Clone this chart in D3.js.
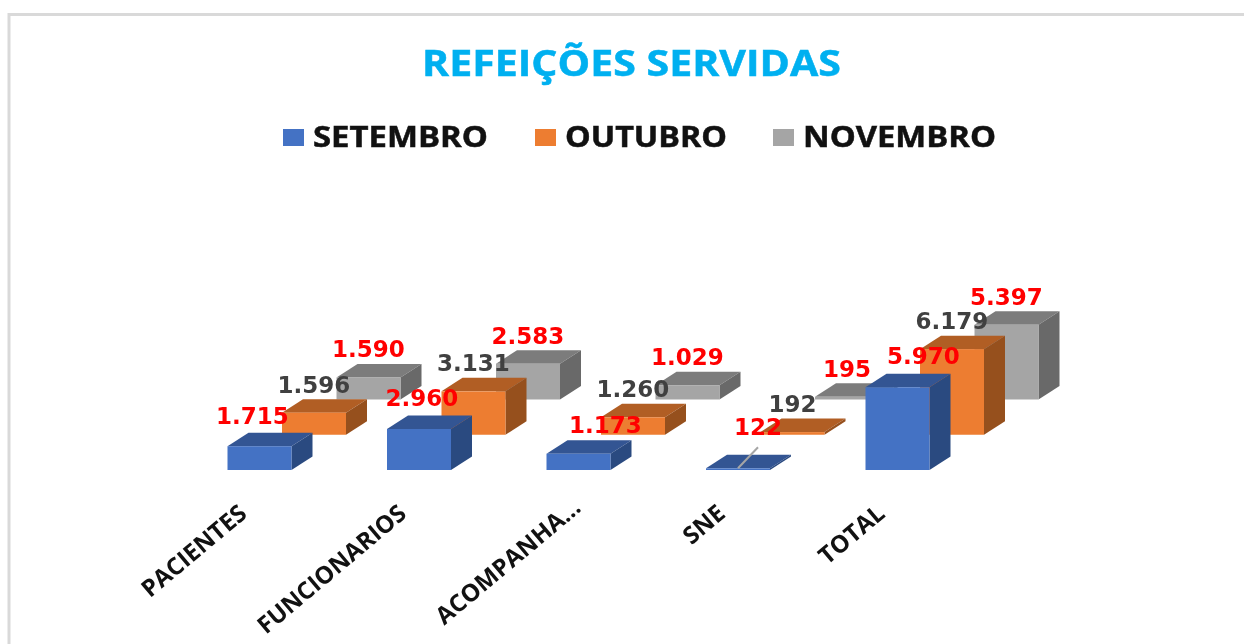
<!DOCTYPE html>
<html>
<head>
<meta charset="utf-8">
<script src="https://cdn.jsdelivr.net/npm/d3@7"></script>
<style>
  html, body { margin: 0; padding: 0; background: #fff; overflow: hidden; }
  svg { display: block; filter: blur(0.45px); } /* the reference is a soft upscaled screenshot */
</style>
</head>
<body>
<div id="chart"></div>
<script>
// define data
var categories = ["PACIENTES", "FUNCIONARIOS", "ACOMPANHA...", "SNE", "TOTAL"];
var seriesNames = ["SETEMBRO", "OUTUBRO", "NOVEMBRO"];
var setembro = [1715, 2960, 1173, 122, 5970];
var outubro = [1596, 3131, 1260, 192, 6179];
var novembro = [1590, 2583, 1029, 195, 5397];
var seriesValues = [setembro, outubro, novembro];

// face colours per series
var frontColors = ["#4472C4", "#ED7D31", "#A5A5A5"];
var topColors = ["#335593", "#B15E24", "#7C7C7C"];
var sideColors = ["#2A4A80", "#96501D", "#696969"];
var labelColors = ["#FF0000", "#404040", "#FF0000"];

// the september labels were dragged by hand in the original
var setembroNudgeX = [-7, 3, 27, 20, 26];
var setembroNudgeY = [-2, -3, -1, -13, -3];

// legend text is stretched in the original, so fix the widths
var legendTextWidth = [175, 162, 193];

// chart dimensions
var width = 1244;
var height = 644;
var barWidth = 64;
var depthX = 21; // side face offset
var depthY = 13.5;

var svg = d3.select('#chart')
  .append('svg')
  .attr('width', width)
  .attr('height', height);

// frame of the chart area, only top and left show
svg.append('path')
  .attr('d', 'M9,' + height + 'V14.5H' + width)
  .attr('fill', 'none')
  .attr('stroke', '#d9d9d9')
  .attr('stroke-width', 3);

// title
svg.append('text')
  .attr('x', 631.5)
  .attr('y', 76)
  .attr('text-anchor', 'middle')
  .attr('font-family', 'Open Sans')
  .attr('font-weight', 700)
  .attr('font-size', 35.5)
  .attr('textLength', 419)
  .attr('lengthAdjust', 'spacingAndGlyphs')
  .attr('fill', '#00B0F0')
  .attr('stroke', '#00B0F0')
  .attr('stroke-width', 0.5)
  .text('REFEIÇÕES SERVIDAS');

// legend
var legendX = d3.scaleOrdinal().domain(seriesNames).range([283, 535, 773]);
var legend = svg.selectAll('.legend')
  .data(seriesNames)
  .enter()
  .append('g')
  .attr('class', 'legend')
  .attr('transform', function(d) { return 'translate(' + legendX(d) + ',129)'; });

legend.append('rect')
  .attr('width', 21)
  .attr('height', 17)
  .attr('fill', function(d, i) { return frontColors[i]; });

legend.append('text')
  .attr('x', 30)
  .attr('y', 18)
  .attr('font-family', 'Open Sans')
  .attr('font-weight', 700)
  .attr('font-size', 29)
  .attr('textLength', function(d, i) { return legendTextWidth[i]; })
  .attr('lengthAdjust', 'spacingAndGlyphs')
  .attr('fill', '#111')
  .attr('stroke', '#111')
  .attr('stroke-width', 0.5)
  .text(function(d) { return d; });

// scales
var x = d3.scalePoint().domain(categories).range([259.5, 897.5]);
var y = d3.scaleLinear().domain([0, 7000]).range([0, 97]); // bar height in px
var seriesX = d3.scalePoint().domain(seriesNames).range([0, 109]);
var seriesY = d3.scalePoint().domain(seriesNames).range([470, 399.5]);

// one record per bar, back series first so the front ones cover them
var bars = [];
seriesNames.forEach(function(name, s) {
  categories.forEach(function(cat, c) {
    bars.push({ s: s, c: c, name: name, cat: cat, value: seriesValues[s][c] });
  });
});
bars.sort(function(a, b) { return b.s - a.s || a.c - b.c; });

function pts(list) {
  return list.map(function(p) { return p.join(','); }).join(' ');
}

var bar = svg.selectAll('.bar')
  .data(bars)
  .enter()
  .append('g')
  .attr('class', 'bar')
  .each(function(d) {
    d.l = x(d.cat) + seriesX(d.name) - barWidth / 2;
    d.r = d.l + barWidth;
    d.base = seriesY(d.name);
    d.top = d.base - y(d.value);
  });

bar.append('polygon') // top
  .attr('points', function(d) {
    return pts([[d.l, d.top], [d.r, d.top], [d.r + depthX, d.top - depthY], [d.l + depthX, d.top - depthY]]);
  })
  .attr('fill', function(d) { return topColors[d.s]; });

bar.append('polygon') // side
  .attr('points', function(d) {
    return pts([[d.r, d.top], [d.r + depthX, d.top - depthY], [d.r + depthX, d.base - depthY], [d.r, d.base]]);
  })
  .attr('fill', function(d) { return sideColors[d.s]; });

bar.append('rect') // front
  .attr('x', function(d) { return d.l; })
  .attr('y', function(d) { return d.top; })
  .attr('width', barWidth)
  .attr('height', function(d) { return d.base - d.top; })
  .attr('fill', function(d) { return frontColors[d.s]; });

// leader line of the SNE label
var sneBlue = bars.filter(function(d) { return d.cat === 'SNE' && d.s === 0; })[0];
svg.append('line')
  .attr('x1', sneBlue.l + barWidth / 2)
  .attr('y1', sneBlue.top)
  .attr('x2', sneBlue.l + barWidth / 2 + 20)
  .attr('y2', sneBlue.top - 21)
  .attr('stroke', '#A5A5A5')
  .attr('stroke-width', 2);

// data labels
var fmt = d3.formatLocale({ decimal: ',', thousands: '.', grouping: [3], currency: ['', ''] }).format(',d');

svg.selectAll('.value')
  .data(bars)
  .enter()
  .append('text')
  .attr('class', 'value')
  .attr('x', function(d) {
    return (d.l + d.r) / 2 + (d.s === 0 ? setembroNudgeX[d.c] : 0);
  })
  .attr('y', function(d) {
    return d.top - 20 + (d.s === 0 ? setembroNudgeY[d.c] : 0);
  })
  .attr('text-anchor', 'middle')
  .attr('font-family', 'DejaVu Sans')
  .attr('font-weight', 700)
  .attr('font-size', 23)
  .attr('fill', function(d) { return labelColors[d.s]; })
  .text(function(d) { return fmt(d.value); });

// category axis, labels only
var axis = svg.append('g')
  .attr('transform', 'translate(0,500)')
  .call(d3.axisBottom(x).tickSize(0).tickPadding(0));

axis.select('.domain').remove();

axis.selectAll('text')
  .attr('font-family', 'Open Sans')
  .attr('font-weight', 700)
  .attr('font-size', 24)
  .attr('fill', '#111')
  .attr('text-anchor', 'end')
  .attr('dy', null)
  .attr('y', 0)
  .attr('transform', function(d) {
    // the truncated label sits a little further along in the original
    return d === 'ACOMPANHA...' ? 'translate(-10,-6) rotate(-40)' : 'translate(-25,0) rotate(-40)';
  })
  .attr('dominant-baseline', 'hanging');
</script>
</body>
</html>
